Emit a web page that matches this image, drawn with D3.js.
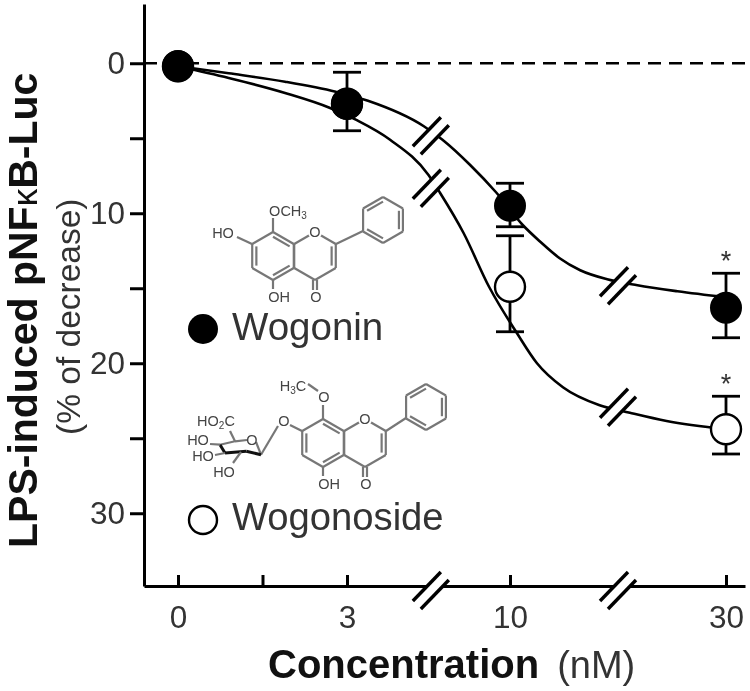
<!DOCTYPE html>
<html>
  <head>
    <title>Wogonin and wogonoside</title>
    <script src="https://d3js.org/d3.v7.min.js"></script>
    <style>
      html, body { margin: 0; padding: 0; background: white; }
      svg { display: block; filter: blur(0.7px); }
      text { font-family: "Liberation Sans", Arial, sans-serif; }
    </style>
  </head>
  <body>
    <svg id="chart" width="750" height="691"></svg>
    <script>
      // values
      var concentrations = [0, 3, 10, 30];
      var xTicks = [0, 1.5, 3, 10, 30];
      var xTickLabels = ["0", "", "3", "10", "30"];
      var yTicks = [0, 5, 10, 15, 20, 25, 30];
      var yTickLabels = ["0", "", "10", "", "20", "", "30"];

      var wogoninMean = [0.2, 2.7, 9.5, 16.3];
      var wogoninTop = [0.2, 0.6, 8.0, 14.0];
      var wogoninBottom = [0.2, 4.5, 10.9, 18.3];

      var wogonosideMean = [0.2, 2.7, 14.9, 24.4];
      var wogonosideTop = [0.2, 2.7, 11.5, 22.2];
      var wogonosideBottom = [0.2, 2.7, 17.9, 26.05];

      // fitted curves, traced
      var wogoninCurveX = [0, 0.9, 1.9, 2.8, 3.9, 6.3, 7.1, 8.3, 9.4, 11.2, 12.8, 14.6, 16.5, 19, 21.8, 25.5, 30];
      var wogoninCurveY = [0.2, 0.67, 1.23, 1.9, 2.5, 4.2, 5.1, 6.8, 8.6, 10.8, 11.9, 13, 13.8, 14.4, 14.8, 15.2, 15.6];
      var wogonosideCurveX = [0, 0.9, 1.9, 2.7, 3.4, 4.85, 6.5, 7, 8, 9.1, 10.65, 12.5, 14.9, 18.3, 21.1, 24.5, 30];
      var wogonosideCurveY = [0.2, 0.98, 1.98, 2.98, 3.78, 5.1, 7.45, 8.65, 11.3, 14.9, 18, 20, 21.6, 22.8, 23.3, 23.85, 24.4];

      // axis breaks: concentration, then percent on the curve
      var breakX = [6.6, 20];
      var wogoninBreakY = [4.8, 14.8];
      var wogonosideBreakY = [8.3, 22.9];

      var starX = [30, 30];
      var starY = [13.8, 22];

      var svg = d3.select("#chart");

      // the concentration axis is broken, so it is piecewise
      var x = d3.scaleLinear()
        .domain([-0.6, 0, 3, 10, 30, 31.8])
        .range([144, 178, 347, 510, 726, 745]);

      var y = d3.scaleLinear()
        .domain([-3.95, 34.85])
        .range([4, 586]);

      var curveLine = d3.line()
        .x(function(d){ return x(d[0]); })
        .y(function(d){ return y(d[1]); })
        .curve(d3.curveMonotoneX);

      // dashed zero line
      svg.append("line")
        .attr("x1", x.range()[0])
        .attr("x2", 750)
        .attr("y1", y(0))
        .attr("y2", y(0))
        .attr("stroke", "black")
        .attr("stroke-width", 2.5)
        .attr("stroke-dasharray", "13,8");

      svg.append("path")
        .attr("d", curveLine(d3.zip(wogoninCurveX, wogoninCurveY)))
        .attr("fill", "none")
        .attr("stroke", "black")
        .attr("stroke-width", 2.6);

      svg.append("path")
        .attr("d", curveLine(d3.zip(wogonosideCurveX, wogonosideCurveY)))
        .attr("fill", "none")
        .attr("stroke", "black")
        .attr("stroke-width", 2.6);

      // double slash, white between the strokes
      var drawBreak = function(px, py){
        var g = svg.append("g").attr("transform", "translate(" + px + "," + py + ")");
        g.append("polygon")
          .attr("points", "10,-18 -18,11 -10,19 18,-10")
          .attr("fill", "white");
        g.append("line").attr("x1", -18).attr("y1", 11).attr("x2", 10).attr("y2", -18)
          .attr("stroke", "black").attr("stroke-width", 3.4);
        g.append("line").attr("x1", -10).attr("y1", 19).attr("x2", 18).attr("y2", -10)
          .attr("stroke", "black").attr("stroke-width", 3.4);
      };

      breakX.forEach(function(b, i){
        drawBreak(x(b), y(wogoninBreakY[i]));
        drawBreak(x(b), y(wogonosideBreakY[i]));
      });

      // error bars
      var drawErrors = function(top, bottom){
        concentrations.forEach(function(c, i){
          var g = svg.append("g");
          g.append("line").attr("x1", x(c)).attr("x2", x(c)).attr("y1", y(top[i])).attr("y2", y(bottom[i]));
          g.append("line").attr("x1", x(c) - 14).attr("x2", x(c) + 14).attr("y1", y(top[i])).attr("y2", y(top[i]));
          g.append("line").attr("x1", x(c) - 14).attr("x2", x(c) + 14).attr("y1", y(bottom[i])).attr("y2", y(bottom[i]));
          g.selectAll("line").attr("stroke", "black").attr("stroke-width", 2.8);
        });
      };

      drawErrors(wogonosideTop, wogonosideBottom);
      drawErrors(wogoninTop, wogoninBottom);

      svg.selectAll(".open").data(concentrations).enter().append("circle")
        .attr("cx", function(d){ return x(d); })
        .attr("cy", function(d, i){ return y(wogonosideMean[i]); })
        .attr("r", 15)
        .attr("fill", "white")
        .attr("stroke", "black")
        .attr("stroke-width", 2.4);

      svg.selectAll(".filled").data(concentrations).enter().append("circle")
        .attr("cx", function(d){ return x(d); })
        .attr("cy", function(d, i){ return y(wogoninMean[i]); })
        .attr("r", 16)
        .attr("fill", "black");

      svg.selectAll(".star").data(starX).enter().append("text")
        .attr("x", function(d){ return x(d); })
        .attr("y", function(d, i){ return y(starY[i]); })
        .attr("text-anchor", "middle")
        .attr("font-size", 27)
        .attr("fill", "#333")
        .text("*");

      // axes
      var yAxis = d3.axisLeft(y)
        .tickValues(yTicks)
        .tickSize(14)
        .tickSizeOuter(0)
        .tickPadding(5)
        .tickFormat(function(d, i){ return yTickLabels[i]; });

      var xAxis = d3.axisBottom(x)
        .tickValues(xTicks)
        .tickSize(-11)
        .tickSizeOuter(0)
        .tickPadding(20)
        .tickFormat(function(d, i){ return xTickLabels[i]; });

      var gy = svg.append("g").attr("transform", "translate(144,0)").call(yAxis);
      var gx = svg.append("g").attr("transform", "translate(0,586)").call(xAxis);

      [gx, gy].forEach(function(g){
        g.selectAll("path, line").attr("stroke", "black").attr("stroke-width", 3);
        g.selectAll("text")
          .attr("font-size", 31.5)
          .attr("fill", "#333")
          .style("font-family", '"Liberation Sans", Arial, sans-serif');
      });

      breakX.forEach(function(b){
        drawBreak(x(b), 590);
      });

      // axis titles
      var xTitle = svg.append("text").attr("x", 268).attr("y", 678).attr("fill", "#111");
      xTitle.append("tspan").attr("font-size", 40).attr("font-weight", "bold").text("Concentration");
      xTitle.append("tspan").attr("dx", 18).attr("font-size", 38).attr("fill", "#333").text("(nM)");

      var yTitle = svg.append("text")
        .attr("transform", "translate(37,548) rotate(-90)")
        .attr("fill", "#111");
      yTitle.append("tspan").attr("font-size", 41).attr("font-weight", "bold").text("LPS-induced pNF");
      yTitle.append("tspan").attr("font-size", 35).text("\u03BA");
      yTitle.append("tspan").attr("font-size", 41).attr("font-weight", "bold").text("B-Luc");

      svg.append("text")
        .attr("transform", "translate(80,435) rotate(-90)")
        .attr("font-size", 33.5)
        .attr("fill", "#333")
        .text("(% of decrease)");

      // legend
      svg.append("circle").attr("cx", 203).attr("cy", 329).attr("r", 15).attr("fill", "black");
      svg.append("circle").attr("cx", 203).attr("cy", 520).attr("r", 14).attr("fill", "white")
        .attr("stroke", "black").attr("stroke-width", 2.4);
      svg.append("text").attr("x", 232).attr("y", 340).attr("font-size", 38.5).attr("fill", "#333").text("Wogonin");
      svg.append("text").attr("x", 232).attr("y", 530).attr("font-size", 38.2).attr("fill", "#333").text("Wogonoside");

      // structures, hexagons around a ring centre
      var grey = "#777";

      var hexagon = function(cx, cy, r){
        return d3.range(6).map(function(i){
          var a = Math.PI / 3 * i;
          return [cx + r * Math.sin(a), cy - r * Math.cos(a)];
        });
      };

      var bond = function(g, a, b, color, width){
        g.append("line")
          .attr("x1", a[0]).attr("y1", a[1]).attr("x2", b[0]).attr("y2", b[1])
          .attr("stroke", color || grey)
          .attr("stroke-width", width || 2.2);
      };

      var label = function(g, px, py, txt, sub, rest){
        var t = g.append("text")
          .attr("x", px).attr("y", py + 5)
          .attr("text-anchor", "middle")
          .attr("font-size", 14.5)
          .attr("fill", "#444")
          .text(txt);
        if(sub){
          t.append("tspan").attr("font-size", 10).attr("dy", 3).text(sub);
          if(rest) t.append("tspan").attr("dy", -3).text(rest);
        }
      };

      var ring = function(g, cx, cy, r, doubles){
        var pts = hexagon(cx, cy, r);
        pts.forEach(function(p, i){
          bond(g, p, pts[(i + 1) % 6]);
        });
        var inner = hexagon(cx, cy, r * 0.8);
        doubles.forEach(function(i){
          bond(g, inner[i], inner[(i + 1) % 6]);
        });
      };

      var flavone = function(px, py, phenylX){
        var g = svg.append("g").attr("transform", "translate(" + px + "," + py + ")");
        var a = hexagon(0, 0, 24);
        ring(g, 0, 0, 24, [0, 2, 4]);
        ring(g, 42, 0, 24, [1]);
        ring(g, phenylX, -36, 23, [1, 3, 5]);
        // mask the ring oxygen, then write it
        g.append("circle").attr("cx", 42).attr("cy", -24).attr("r", 7).attr("fill", "white");
        label(g, 42, -24, "O");
        bond(g, [63, -12], [phenylX - 20, -25]);
        bond(g, [40, 24], [40, 34]);
        bond(g, [44, 24], [44, 34]);
        label(g, 43, 41, "O");
        bond(g, a[3], [0, 33]);
        label(g, 6, 41, "OH");
        return g;
      };

      var wogonin = flavone(273, 256, 110);
      bond(wogonin, [0, -24], [0, -38]);
      label(wogonin, 15, -45, "OCH", "3");
      bond(wogonin, [-21, -12], [-36, -19]);
      label(wogonin, -50, -23, "HO");

      var wogonoside = flavone(323, 443, 103);
      bond(wogonoside, [0, -24], [0, -38]);
      label(wogonoside, 1, -46, "O");
      bond(wogonoside, [-5, -52], [-15, -59]);
      label(wogonoside, -30, -57, "H", "3", "C");
      bond(wogonoside, [-21, -12], [-33, -18]);
      label(wogonoside, -39, -22, "O");
      bond(wogonoside, [-45, -17], [-62, 11.7]);

      // sugar ring, front edge is heavy
      bond(wogonoside, [-62, 11.7], [-67, -1], grey);
      bond(wogonoside, [-76, -3], [-88, -1.7], grey);
      bond(wogonoside, [-88, -1.7], [-103, 1.7], grey);
      bond(wogonoside, [-88, -1.7], [-93, -12], grey);
      bond(wogonoside, [-62, 11.7], [-76.7, 8.3], "#111", 3);
      bond(wogonoside, [-76.7, 8.3], [-98, 10], "#111", 3);
      bond(wogonoside, [-98, 10], [-103, 1.7], "#111", 3);
      bond(wogonoside, [-103, 1.7], [-113, 1], grey);
      bond(wogonoside, [-98, 10], [-108, 12], grey);
      bond(wogonoside, [-82, 9], [-90, 20], grey);
      label(wogonoside, -71, -3, "O");
      label(wogonoside, -107, -22, "HO", "2", "C");
      label(wogonoside, -125, -3, "HO");
      label(wogonoside, -120, 13, "HO");
      label(wogonoside, -99, 29, "HO");
    </script>
  </body>
</html>
